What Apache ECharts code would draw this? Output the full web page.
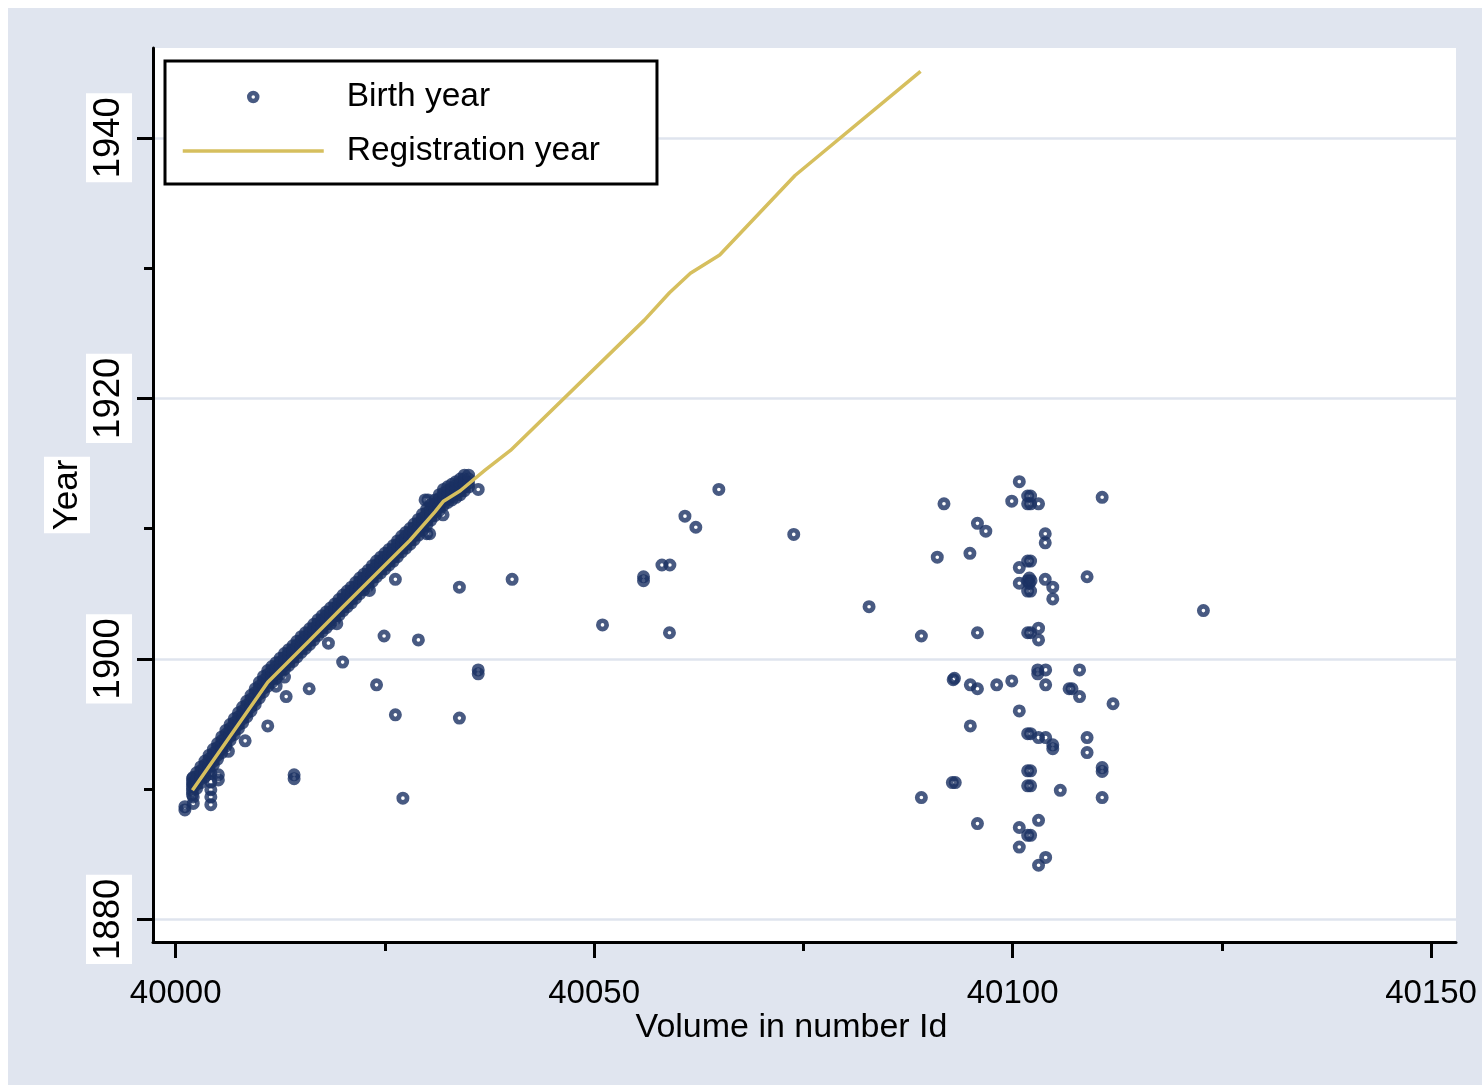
<!DOCTYPE html>
<html>
<head>
<meta charset="utf-8">
<script src="https://cdn.jsdelivr.net/npm/echarts@6/dist/echarts.min.js"></script>
<style>
  html, body { margin: 0; padding: 0; background: #ffffff; }
  #chart { position: absolute; left: 8px; top: 8px; width: 1474px; height: 1077px; }
</style>
</head>
<body>
<div id="chart"></div>
<script>
// Axis ticks
const xTicks = [40000, 40050, 40100, 40150];
const xMinorTicks = [40025, 40075, 40125];
const yTicks = [1880, 1900, 1920, 1940];
const yMinorTicks = [1890, 1910, 1930];

// Registration year by volume
const regVolume = [40002, 40011, 40016, 40020, 40028, 40031, 40032, 40034, 40037, 40040, 40056, 40059, 40061.5, 40065, 40074, 40089];
const regYear   = [1889.9, 1898.2, 1901.4, 1904.0, 1909.1, 1911.3, 1912.1, 1912.9, 1914.5, 1916.0, 1926.0, 1928.1, 1929.6, 1931.0, 1937.1, 1945.1];

// Birth years in the early volumes (jittered volume): [volume, years from low to high]
const birthDense = [
  [40002, 1889.6, 1889.9, 1890.2, 1890.5, 1890.8],
  [40002.5, 1890.05, 1890.35, 1890.65, 1890.95, 1891.25],
  [40003, 1890.5, 1890.8, 1891.1, 1891.4, 1891.7],
  [40003.5, 1890.95, 1891.25, 1891.55, 1891.85, 1892.15],
  [40004, 1891.4, 1891.7, 1892.0, 1892.3, 1892.6],
  [40004.5, 1891.85, 1892.15, 1892.45, 1892.75, 1893.05],
  [40005, 1892.3, 1892.6, 1892.9, 1893.2, 1893.5],
  [40005.5, 1892.8, 1893.1, 1893.4, 1893.7, 1894.0],
  [40006, 1893.3, 1893.6, 1893.9, 1894.2, 1894.5],
  [40006.5, 1893.75, 1894.05, 1894.35, 1894.65, 1894.95],
  [40007, 1894.2, 1894.5, 1894.8, 1895.1, 1895.4],
  [40007.5, 1894.65, 1894.95, 1895.25, 1895.55, 1895.85],
  [40008, 1895.1, 1895.4, 1895.7, 1896.0, 1896.3],
  [40008.5, 1895.55, 1895.85, 1896.15, 1896.45, 1896.75],
  [40009, 1896.0, 1896.3, 1896.6, 1896.9, 1897.2],
  [40009.5, 1896.5, 1896.8, 1897.1, 1897.4, 1897.7],
  [40010, 1897.0, 1897.3, 1897.6, 1897.9, 1898.2],
  [40010.5, 1897.45, 1897.75, 1898.05, 1898.35, 1898.65],
  [40011, 1897.9, 1898.2, 1898.5, 1898.8, 1899.1],
  [40011.5, 1898.2, 1898.5, 1898.8, 1899.1, 1899.4],
  [40012, 1898.5, 1898.8, 1899.1, 1899.4, 1899.7],
  [40012.5, 1898.85, 1899.15, 1899.45, 1899.75, 1900.05],
  [40013, 1899.2, 1899.5, 1899.8, 1900.1, 1900.4],
  [40013.5, 1899.5, 1899.8, 1900.1, 1900.4, 1900.7],
  [40014, 1899.8, 1900.1, 1900.4, 1900.7, 1901.0],
  [40014.5, 1900.15, 1900.45, 1900.75, 1901.05, 1901.35],
  [40015, 1900.5, 1900.8, 1901.1, 1901.4, 1901.7],
  [40015.5, 1900.8, 1901.1, 1901.4, 1901.7, 1902.0],
  [40016, 1901.1, 1901.4, 1901.7, 1902.0, 1902.3],
  [40016.5, 1901.45, 1901.75, 1902.05, 1902.35, 1902.65],
  [40017, 1901.8, 1902.1, 1902.4, 1902.7, 1903.0],
  [40017.5, 1902.1, 1902.4, 1902.7, 1903.0, 1903.3],
  [40018, 1902.4, 1902.7, 1903.0, 1903.3, 1903.6],
  [40018.5, 1902.7, 1903.0, 1903.3, 1903.6, 1903.9],
  [40019, 1903.0, 1903.3, 1903.6, 1903.9, 1904.2],
  [40019.5, 1903.35, 1903.65, 1903.95, 1904.25, 1904.55],
  [40020, 1903.7, 1904.0, 1904.3, 1904.6, 1904.9],
  [40020.5, 1904.0, 1904.3, 1904.6, 1904.9, 1905.2],
  [40021, 1904.3, 1904.6, 1904.9, 1905.2, 1905.5],
  [40021.5, 1904.65, 1904.95, 1905.25, 1905.55, 1905.85],
  [40022, 1905.0, 1905.3, 1905.6, 1905.9, 1906.2],
  [40022.5, 1905.3, 1905.6, 1905.9, 1906.2, 1906.5],
  [40023, 1905.6, 1905.9, 1906.2, 1906.5, 1906.8],
  [40023.5, 1905.95, 1906.25, 1906.55, 1906.85, 1907.15],
  [40024, 1906.3, 1906.6, 1906.9, 1907.2, 1907.5],
  [40024.5, 1906.6, 1906.9, 1907.2, 1907.5, 1907.8],
  [40025, 1906.9, 1907.2, 1907.5, 1907.8, 1908.1],
  [40025.5, 1907.2, 1907.5, 1907.8, 1908.1, 1908.4],
  [40026, 1907.5, 1907.8, 1908.1, 1908.4, 1908.7],
  [40026.5, 1907.85, 1908.15, 1908.45, 1908.75, 1909.05],
  [40027, 1908.2, 1908.5, 1908.8, 1909.1, 1909.4],
  [40027.5, 1908.5, 1908.8, 1909.1, 1909.4, 1909.7],
  [40028, 1908.8, 1909.1, 1909.4, 1909.7, 1910.0],
  [40028.5, 1909.15, 1909.45, 1909.75, 1910.05, 1910.35],
  [40029, 1909.5, 1909.8, 1910.1, 1910.4, 1910.7],
  [40029.5, 1909.9, 1910.2, 1910.5, 1910.8, 1911.1],
  [40030, 1910.3, 1910.6, 1910.9, 1911.2, 1911.5],
  [40030.5, 1910.65, 1910.95, 1911.25, 1911.55, 1911.85],
  [40031, 1911.0, 1911.3, 1911.6, 1911.9, 1912.2],
  [40031.5, 1911.4, 1911.7, 1912.0, 1912.3, 1912.6],
  [40032, 1911.8, 1912.1, 1912.4, 1912.7, 1913.0],
  [40032.5, 1912.0, 1912.3, 1912.6, 1912.9, 1913.2],
  [40033, 1912.2, 1912.5, 1912.8, 1913.1, 1913.4],
  [40033.5, 1912.4, 1912.7, 1913.0, 1913.3, 1913.6],
  [40034, 1912.6, 1912.9, 1913.2, 1913.5, 1913.8],
  [40034.5, 1912.9, 1913.2, 1913.5, 1913.8, 1914.1],
  [40035, 1913.2, 1913.5, 1913.8, 1914.1]
];

// Remaining birth years, [volume, year]
const birthOther = [
  // early volumes
  [40002.1,1890.9],[40002.1,1890.4],[40002.1,1889.4],[40002.1,1888.9],
  [40012,1897.9],[40013,1898.6],
  [40001.1,1888.4],[40001.1,1888.65],
  [40004.2,1891.2],[40004.2,1890.55],[40004.2,1889.95],[40004.2,1889.4],[40004.2,1888.8],
  [40005.1,1891.1],[40005.1,1890.7],
  [40006.3,1892.9],[40008.3,1893.7],[40011.0,1894.85],[40013.2,1897.1],[40015.95,1897.7],
  [40014.15,1890.8],[40014.15,1891.1],[40018.25,1901.2],[40019.25,1902.7],[40019.95,1899.75],
  [40023.15,1905.25],[40024.0,1898.0],[40024.9,1901.75],[40026.25,1906.1],[40026.25,1895.7],
  [40027.15,1889.3],[40029.0,1901.45],[40029.8,1912.2],[40030.15,1912.2],[40030.0,1909.6],
  [40030.35,1909.6],[40031.95,1911.05],[40033.9,1905.5],[40033.9,1895.45],
  [40036.15,1913.0],[40036.15,1898.85],[40036.15,1899.15],[40040.2,1906.1],
  // middle volumes
  [40051.0,1902.6],[40055.9,1906.0],[40055.9,1906.3],[40058.1,1907.2],[40059.05,1907.2],
  [40059.0,1902.0],[40060.85,1910.95],[40062.15,1910.1],[40064.9,1913.0],[40073.85,1909.55],
  [40082.85,1904.0],
  // later volumes
  [40089.1,1901.75],[40089.1,1889.35],[40091.0,1907.8],[40091.8,1911.9],
  [40092.9,1898.4],[40093.05,1898.5],[40092.8,1890.5],[40093.15,1890.5],
  [40094.9,1908.1],[40094.95,1898.0],[40094.95,1894.85],
  [40095.8,1910.4],[40095.8,1902.0],[40095.8,1897.7],[40095.8,1887.35],
  [40096.8,1909.8],[40098.1,1898.0],[40099.9,1912.1],[40099.9,1898.3],
  [40100.8,1913.6],[40100.8,1907.0],[40100.8,1905.8],[40100.8,1896.0],[40100.8,1887.05],[40100.8,1885.55],
  [40101.8,1912.5],[40102.15,1912.5],[40101.8,1911.9],[40102.15,1911.9],
  [40101.8,1907.5],[40102.15,1907.5],[40102.0,1906.2],[40101.8,1906.0],[40102.2,1906.0],
  [40102.0,1905.8],[40101.8,1905.2],[40102.15,1905.2],[40101.8,1902.0],[40102.15,1902.0],
  [40101.8,1894.25],[40102.15,1894.25],[40101.8,1891.4],[40102.15,1891.4],
  [40101.8,1890.25],[40102.15,1890.25],[40101.8,1886.45],[40102.15,1886.45],
  [40103.1,1911.9],[40103.1,1902.35],[40103.1,1901.45],[40103.0,1898.85],[40103.0,1899.15],
  [40103.1,1893.95],[40103.1,1887.6],[40103.1,1884.15],
  [40103.9,1909.6],[40103.9,1908.9],[40103.9,1906.1],[40103.95,1899.15],[40103.95,1898.0],
  [40103.95,1893.95],[40103.95,1884.75],
  [40104.8,1905.5],[40104.8,1904.6],[40104.8,1893.1],[40104.8,1893.4],[40105.7,1889.9],
  [40106.75,1897.7],[40107.1,1897.7],[40108.0,1899.15],[40108.0,1897.1],
  [40108.9,1906.3],[40108.9,1893.95],[40108.9,1892.8],
  [40110.7,1912.4],[40110.7,1891.35],[40110.7,1891.65],[40110.7,1889.35],
  [40112.0,1896.55],[40122.8,1903.7]
];

const X_MIN = 39997.29, X_MAX = 40152.98;
const Y_MIN = 1878.26, Y_MAX = 1946.89;

const NAVY = '#1a3163';
const SAND = '#d6bf5e';
const FONT = '"Liberation Sans", Arial, Helvetica, sans-serif';
const tickLine = { color: '#000', width: 3 };
// hollow circle marker: filled ring with a small hole
const RING = 'path://M0,-10A10,10 0 1,1 0,10A10,10 0 1,1 0,-10ZM0,-2.8A2.8,2.8 0 1,0 0,2.8A2.8,2.8 0 1,0 0,-2.8Z';

// dense volumes drawn low-to-high within each volume step
const birthPoints = birthOther.slice(0, 6)
  .concat(birthDense.flatMap(c => c.slice(1).map(y => [c[0], y])))
  .concat(birthOther.slice(6));

const chart = echarts.init(document.getElementById('chart'), null, { renderer: 'canvas' });

chart.setOption({
  animation: false,
  backgroundColor: '#e0e5ef',
  textStyle: { fontFamily: FONT },
  grid: [
    { left: 145, top: 40, width: 1303, height: 894, show: true, backgroundColor: '#ffffff', borderWidth: 0 },
    { left: 145, top: 40, width: 1303, height: 894, show: false }
  ],
  xAxis: [
    {
      type: 'value', gridIndex: 0, min: X_MIN, max: X_MAX, position: 'bottom',
      axisLine: { show: true, onZero: false, lineStyle: tickLine },
      axisTick: { show: true, customValues: xTicks, length: 16, lineStyle: tickLine },
      axisLabel: { customValues: xTicks, formatter: v => String(v), fontSize: 33, lineHeight: 30, color: '#000', margin: 37, fontFamily: FONT },
      splitLine: { show: false },
      name: 'Volume in number Id', nameLocation: 'middle', nameGap: 69, nameMoveOverlap: false,
      nameTextStyle: { fontSize: 34, color: '#000', fontFamily: FONT, padding: [0, 26, 0, 0] }
    },
    {
      type: 'value', gridIndex: 1, min: X_MIN, max: X_MAX, position: 'bottom',
      axisLine: { show: false, onZero: false },
      axisTick: { show: true, customValues: xMinorTicks, length: 9, lineStyle: tickLine },
      axisLabel: { show: false },
      splitLine: { show: false }
    }
  ],
  yAxis: [
    {
      type: 'value', gridIndex: 0, min: Y_MIN, max: Y_MAX, position: 'left',
      axisLine: { show: true, onZero: false, lineStyle: tickLine },
      axisTick: { show: true, customValues: yTicks, length: 16, lineStyle: tickLine },
      axisLabel: {
        customValues: yTicks, formatter: v => String(v), rotate: 90, fontSize: 36.5, lineHeight: 36,
        backgroundColor: '#ffffff', padding: [5, 4, 5, 4], margin: 21, color: '#000', fontFamily: FONT
      },
      splitLine: { show: true, lineStyle: { color: '#dfe4ee', width: 2.5 } },
      name: 'Year', nameLocation: 'middle', nameRotate: 90, nameGap: 63, nameMoveOverlap: false,
      nameTextStyle: { fontSize: 35, lineHeight: 36, backgroundColor: '#ffffff', padding: [5, 3, 5, 3], color: '#000', fontFamily: FONT }
    },
    {
      type: 'value', gridIndex: 1, min: Y_MIN, max: Y_MAX, position: 'left',
      axisLine: { show: false, onZero: false },
      axisTick: { show: true, customValues: yMinorTicks, length: 9, lineStyle: tickLine },
      axisLabel: { show: false },
      splitLine: { show: false }
    }
  ],
  legend: {
    left: 157, top: 53, orient: 'vertical', selectedMode: false,
    padding: [19, 57, 16, 16],
    backgroundColor: '#ffffff', borderColor: '#000', borderWidth: 3, borderRadius: 0,
    itemWidth: 141, itemHeight: 12.5, itemGap: 20,
    textStyle: { fontSize: 33.5, lineHeight: 30, color: '#000', fontFamily: FONT, padding: [0, 0, 0, 18] },
    data: [
      { name: 'Birth year' },
      { name: 'Registration year', itemStyle: { opacity: 0 }, lineStyle: { color: SAND, width: 3.5 } }
    ]
  },
  series: [
    {
      name: 'Birth year', type: 'scatter', xAxisIndex: 0, yAxisIndex: 0, z: 2,
      symbol: RING, symbolSize: 13,
      itemStyle: { color: NAVY, borderWidth: 0 },
      emphasis: { disabled: true },
      data: birthPoints
    },
    {
      name: 'Registration year', type: 'line', xAxisIndex: 0, yAxisIndex: 0, z: 3,
      symbol: 'none', showSymbol: false,
      lineStyle: { color: SAND, width: 3.5 },
      itemStyle: { color: SAND },
      emphasis: { disabled: true },
      data: regVolume.map((v, i) => [v, regYear[i]])
    }
  ]
});
</script>
</body>
</html>
